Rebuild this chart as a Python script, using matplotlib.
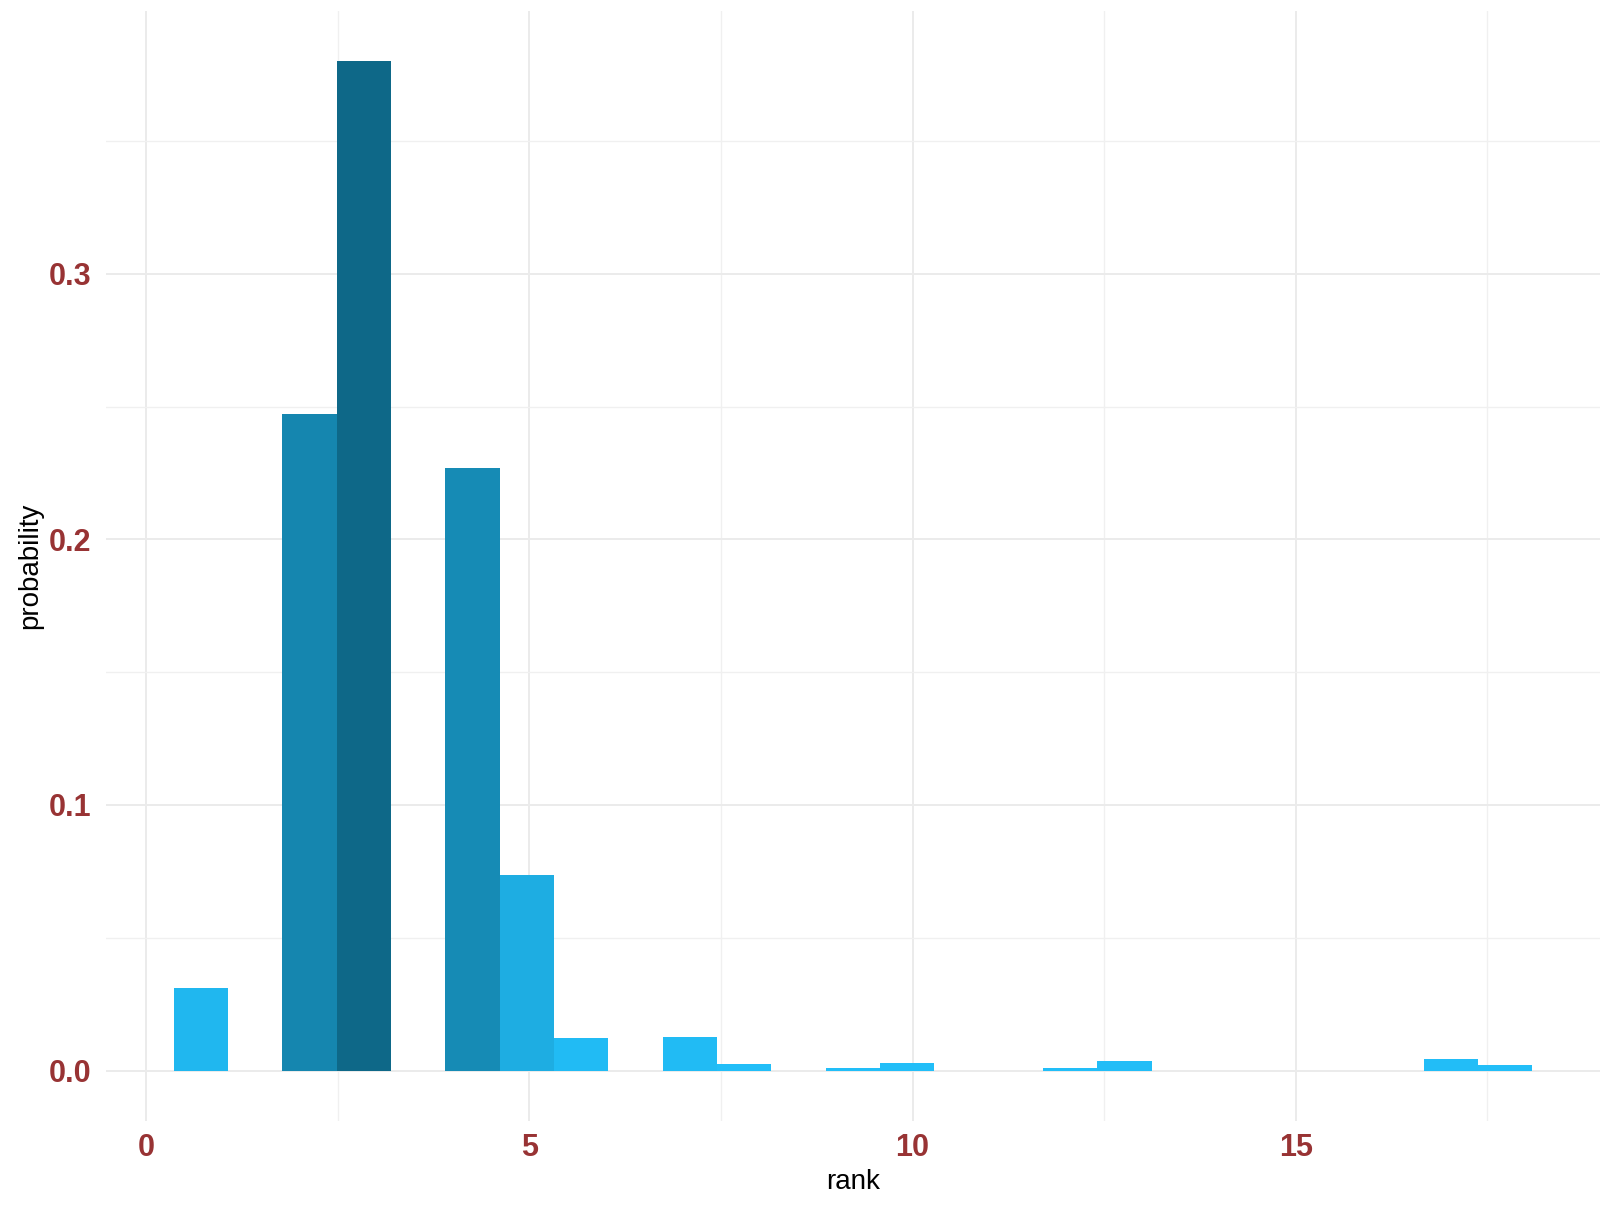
import numpy as np
import matplotlib.pyplot as plt
from matplotlib.colors import LinearSegmentedColormap
from matplotlib.ticker import FixedLocator

# histogram bins (rank)
bin_start = 0.36
bin_width = 0.709
probability = [0.0312, 0.0, 0.2473, 0.380, 0.0, 0.2269, 0.0735, 0.0123, 0.0,
               0.0127, 0.0023, 0.0, 0.0008, 0.0027, 0.0, 0.0, 0.0008, 0.0035,
               0.0, 0.0, 0.0, 0.0, 0.0, 0.0042, 0.0019]
x_ticks = [0, 5, 10, 15]
y_ticks = [0.0, 0.1, 0.2, 0.3]

plt.rcParams['font.family'] = ['Liberation Sans', 'DejaVu Sans']

probs = np.array(probability)
lefts = bin_start + bin_width * np.arange(len(probs))

# fill colour follows bar height (light -> dark blue)
cmap = LinearSegmentedColormap.from_list('fill', ['#22BEF8', '#0E6888'])
colors = cmap(probs / probs.max())

fig = plt.figure(figsize=(16.02, 12.12), dpi=100)
ax = fig.add_axes([0.0659, 0.0751, 0.933, 0.9158])

mask = probs > 0
ax.bar(lefts[mask], probs[mask], width=bin_width, align='edge',
       color=colors[mask], linewidth=0, zorder=3)

xmin, xmax = lefts[0], lefts[-1] + bin_width
pad = (xmax - xmin) * 0.05
ax.set_xlim(xmin - pad, xmax + pad)
ymax = probs.max()
ax.set_ylim(-ymax * 0.05, ymax * 1.05)

ax.set_xticks(x_ticks)
ax.set_yticks(y_ticks)
ax.set_yticklabels([f'{v:.1f}' for v in y_ticks])
ax.xaxis.set_minor_locator(FixedLocator([2.5, 7.5, 12.5, 17.5]))
ax.yaxis.set_minor_locator(FixedLocator([0.05, 0.15, 0.25, 0.35]))

ax.grid(which='major', color='#EBEBEB', linewidth=1.4, zorder=0)
ax.grid(which='minor', color='#F0F0F0', linewidth=1.0, zorder=0)
ax.set_axisbelow(True)

for s in ax.spines.values():
    s.set_visible(False)
ax.tick_params(which='both', length=0)
ax.tick_params(axis='y', pad=10)
ax.tick_params(axis='x', pad=9)
for lab in ax.get_xticklabels() + ax.get_yticklabels():
    lab.set_fontsize(22)
    lab.set_fontweight('bold')
    lab.set_color('#983334')

ax.set_xlabel('rank', fontsize=20, labelpad=4)
ax.set_ylabel('probability', fontsize=20, labelpad=4)

fig.savefig('out.png', dpi=100, facecolor='white')
